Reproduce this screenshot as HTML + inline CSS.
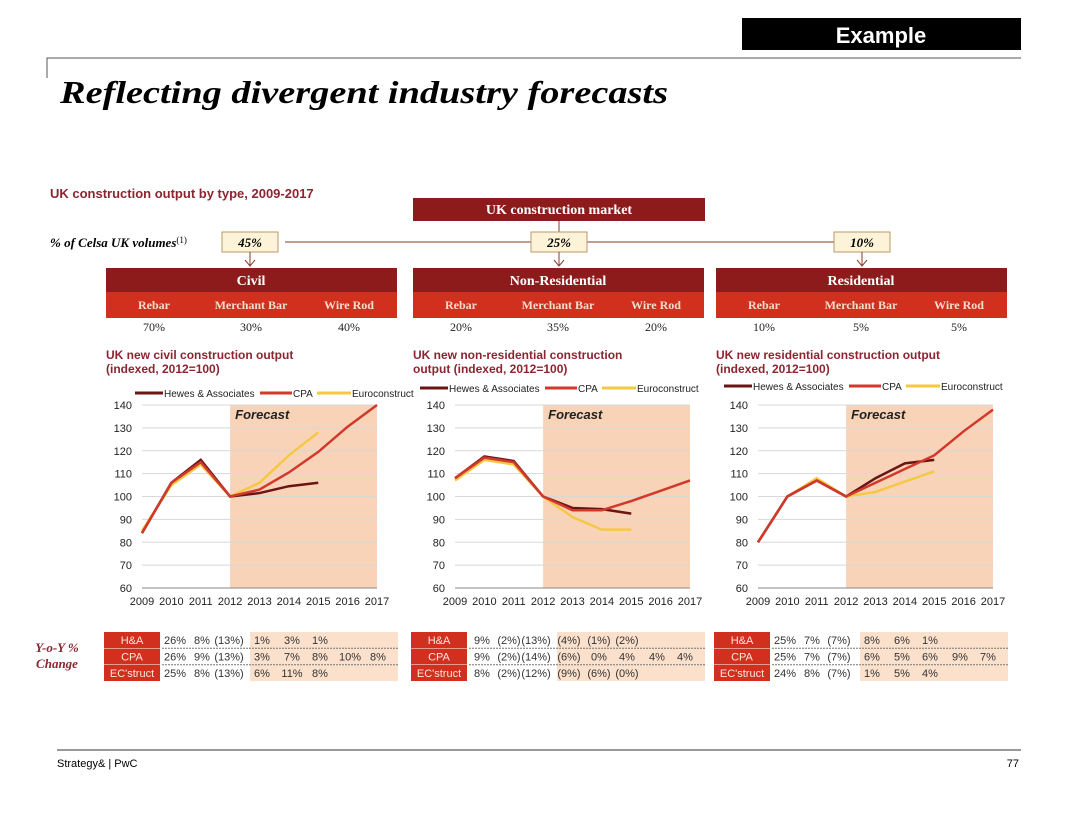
<!DOCTYPE html>
<html><head><meta charset="utf-8"><style>
body{margin:0;background:#fff;}
svg text{font-family:"Liberation Sans",sans-serif;}
.serif{font-family:"Liberation Serif",serif !important;}
</style></head><body>
<svg id="s" width="1080" height="810" viewBox="0 0 1080 810" xmlns="http://www.w3.org/2000/svg">
<rect x="742" y="18" width="279" height="32" fill="#000"/>
<text x="881" y="43" font-size="22" font-weight="bold" fill="#fff" text-anchor="middle">Example</text>
<path d="M47 78 V58 H1021" stroke="#555" fill="none" stroke-width="1"/>
<text x="60" y="103" class="serif" font-size="32" font-weight="bold" font-style="italic" fill="#000" textLength="608" lengthAdjust="spacingAndGlyphs">Reflecting divergent industry forecasts</text>
<text x="50" y="198" font-size="13" font-weight="bold" fill="#8b2530">UK construction output by type, 2009-2017</text>
<rect x="413" y="198" width="292" height="23" fill="#8e1b1b"/>
<text x="559" y="214" class="serif" font-size="14" font-weight="bold" fill="#fff" text-anchor="middle">UK construction market</text>
<line x1="559" y1="221" x2="559" y2="242" stroke="#8b3a2a"/>
<line x1="285" y1="242" x2="836" y2="242" stroke="#8b3a2a"/>
<text x="50" y="247" class="serif" font-size="13" font-weight="bold" font-style="italic" fill="#000">% of Celsa UK volumes<tspan font-size="9" font-style="normal" font-weight="normal" dy="-4">(1)</tspan></text>
<g id="g"></g>
<line x1="57" y1="750" x2="1021" y2="750" stroke="#333"/>
<text x="57" y="767" font-size="11" fill="#000">Strategy&amp; | PwC</text>
<text x="1019" y="767" font-size="11" fill="#000" text-anchor="end">77</text>
</svg>
<script>
const years=[2009,2010,2011,2012,2013,2014,2015,2016,2017];
const yTicks=[60,70,80,90,100,110,120,130,140];
const civilHA=[84,106,116,100,101.5,104.5,106];
const civilCPA=[84,106,115,100,103,110.5,119.5,130.5,140];
const civilEC=[85,105,114,100,106,118,128];
const nonresHA=[108,117.5,115.5,100,95,94.5,92.5];
const nonresCPA=[108,117,115,100,94,94,98,102.5,107];
const nonresEC=[107,116,114,100,91,85.5,85.5];
const resHA=[80,100,107,100,108,114.5,116];
const resCPA=[80,100,107,100,106,112,118,128.5,138];
const resEC=[80,100,108,100,102,106.5,111];
const civilTable=[["26%","8%","(13%)","1%","3%","1%"],["26%","9%","(13%)","3%","7%","8%","10%","8%"],["25%","8%","(13%)","6%","11%","8%"]];
const nonresTable=[["9%","(2%)","(13%)","(4%)","(1%)","(2%)"],["9%","(2%)","(14%)","(6%)","0%","4%","4%","4%"],["8%","(2%)","(12%)","(9%)","(6%)","(0%)"]];
const resTable=[["25%","7%","(7%)","8%","6%","1%"],["25%","7%","(7%)","6%","5%","6%","9%","7%"],["24%","8%","(7%)","1%","5%","4%"]];
const NS="http://www.w3.org/2000/svg",G=document.getElementById('g');
function el(t,a,txt,p){const e=document.createElementNS(NS,t);for(const k in a)e.setAttribute(k,a[k]);if(txt!=null)e.textContent=txt;(p||G).appendChild(e);return e;}
const panels=[
 {name:"civil",title:"Civil",pct:"45%",box:106,px:250,pcts:["70%","30%","40%"],t1:"UK new civil  construction output",x0:142,s:[civilHA,civilCPA,civilEC],tab:civilTable,lx:135,ly:397},
 {name:"nonresidential",title:"Non-Residential",pct:"25%",box:413,px:559,pcts:["20%","35%","20%"],t1:"UK new non-residential  construction",t2:"output (indexed, 2012=100)",x0:455,s:[nonresHA,nonresCPA,nonresEC],tab:nonresTable,lx:420,ly:392},
 {name:"residential",title:"Residential",pct:"10%",box:716,px:862,pcts:["10%","5%","5%"],t1:"UK new residential  construction output",x0:758,s:[resHA,resCPA,resEC],tab:resTable,lx:724,ly:390}];
const cols=["#6b1414","#d0392b","#f5c842"],names=["Hewes & Associates","CPA","Euroconstruct"];
const legOff=[[0,28],[125,157],[182,216]];
const Y0=588,Y1=405;
panels.forEach(p=>{
 let b=el('rect',{x:p.px-28,y:232,width:56,height:20,fill:'#fdf3d8',stroke:'#b89a6a'});
 
 el('text',{x:p.px,y:247,'font-size':13,'font-weight':'bold','font-style':'italic','text-anchor':'middle',class:'serif'},p.pct);
 el('path',{d:`M${p.px} 252 V266 M${p.px-5} 260 L${p.px} 266 L${p.px+5} 260`,stroke:'#8b3a2a',fill:'none'});
 let h=el('rect',{x:p.box,y:268,width:291,height:24,fill:'#8e1b1b'});
 
 el('text',{x:p.box+145,y:285,'font-size':14,'font-weight':'bold',fill:'#fff','text-anchor':'middle',class:'serif'},p.title);
 el('rect',{x:p.box,y:292,width:291,height:26,fill:'#d2301f'});
 ["Rebar","Merchant Bar","Wire Rod"].forEach((t,i)=>{const cx=p.box+[48,145,243][i];
  el('text',{x:cx,y:309,'font-size':12,'font-weight':'bold',fill:'#f3dccc','text-anchor':'middle',class:'serif'},t);
  el('text',{x:cx,y:331,'font-size':12,fill:'#222','text-anchor':'middle',class:'serif'},p.pcts[i]);});
 const x0=p.x0,dx=(235)/8;
 const X=i=>x0+i*dx, Yf=v=>Y0-(v-60)/80*(Y0-Y1);
 el('text',{x:p.box,y:359,'font-size':12,'font-weight':'bold',fill:'#8b2530'},p.t1);
 el('text',{x:p.box,y:373,'font-size':12,'font-weight':'bold',fill:'#8b2530'},p.t2||"(indexed, 2012=100)");
 let fc=el('rect',{x:X(3),y:Y1,width:X(8)-X(3),height:Y0-Y1,fill:'#f9d3b8'});
 
 el('text',{x:X(3)+5,y:Y1+14,'font-size':13,'font-weight':'bold','font-style':'italic',fill:'#222'},"Forecast");
 yTicks.forEach(v=>{el('line',{x1:x0,x2:X(8),y1:Yf(v),y2:Yf(v),stroke:'#d8d8d8'});
  el('text',{x:x0-10,y:Yf(v)+4,'font-size':11,'text-anchor':'end',fill:'#222'},v);});
 el('line',{x1:x0,x2:X(8),y1:Y0,y2:Y0,stroke:'#888'});
 years.forEach((yr,i)=>{el('text',{x:X(i),y:Y0+17,'font-size':11,'text-anchor':'middle',fill:'#222'},yr);});
 const lx=p.lx, ly=p.ly;
 names.forEach((n,i)=>{el('line',{x1:lx+legOff[i][0],x2:lx+legOff[i][1],y1:ly-4,y2:ly-4,stroke:cols[i],'stroke-width':3});
  el('text',{x:lx+legOff[i][1]+1,y:ly,'font-size':10,fill:'#222'},n);});
 [2,0,1].forEach(k=>{const d=p.s[k].map((v,i)=>(i?'L':'M')+X(i)+' '+Yf(v)).join(' ');
  const pl=el('path',{d:d,stroke:cols[k],'stroke-width':2.5,fill:'none'});
  
  });
 const tx=p.box-2;
 el('rect',{x:tx+146,y:632,width:148,height:49,fill:'#fbe0cc'});
 const colX=[71,98,125,158,188,216,246,274];
 ["H&A","CPA","EC'struct"].forEach((r,j)=>{const ry=632+j*16.5;
  el('rect',{x:tx,y:ry,width:56,height:16,fill:'#d2301f'});
  el('text',{x:tx+28,y:ry+12,'font-size':11,fill:'#fbe5dd','text-anchor':'middle'},r);
  if(j<2)el('line',{x1:tx+58,x2:tx+294,y1:ry+16.3,y2:ry+16.3,stroke:'#777','stroke-dasharray':'2,1'});
  p.tab[j].forEach((v,i)=>{el('text',{x:tx+colX[i],y:ry+12,'font-size':11,fill:'#333','text-anchor':'middle'},v);});
 });
});
el('text',{x:57,y:652,'font-size':13,'font-weight':'bold','font-style':'italic',fill:'#8b2530','text-anchor':'middle',class:'serif'},"Y-o-Y %");
el('text',{x:57,y:668,'font-size':13,'font-weight':'bold','font-style':'italic',fill:'#8b2530','text-anchor':'middle',class:'serif'},"Change");
</script>
</body></html>
